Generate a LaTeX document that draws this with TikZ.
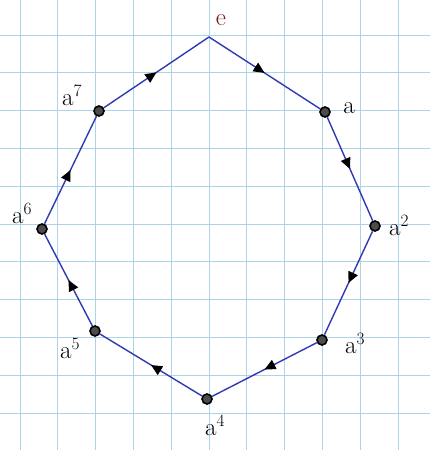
\documentclass[tikz,border=0pt]{standalone}
\usepackage{tikz}
\usepackage{xcolor}
\usetikzlibrary{arrows.meta, decorations.markings}
\definecolor{gridblue}{RGB}{172,212,232}
\definecolor{edgeblue}{RGB}{48,58,178}
\definecolor{labelred}{RGB}{112,30,30}

\begin{document}
\begin{tikzpicture}[
    x=1pt, y=-1pt,
    gridline/.style={gridblue, line width=0.8pt},
    vtx/.style={circle, draw=black, fill=black!70, line width=1.6pt,
                inner sep=0pt, minimum size=10pt},
    lbl/.style={font=\fontsize{25}{29}\selectfont, inner sep=1pt},
    edge/.style={edgeblue, line width=1.4pt, postaction={decorate},
                 decoration={markings, mark=at position 0.5 with
                 {\arrow[black]{Triangle[length=11pt, width=10pt]}}}}
]
\useasboundingbox (0,0) rectangle (430,450);
\fill[white] (0,0) rectangle (430,450);
% quadretti
\foreach \k in {0,...,11}{
    \draw[gridline] ({20+37.8*\k},0) -- ({20+37.8*\k},450);
}
\foreach \k in {0,...,12}{
    \draw[gridline] (0,{-2.8+37.8*\k}) -- (430,{-2.8+37.8*\k});
}
% elementi del gruppo
\coordinate (N0) at (209,37);
\foreach \i/\x/\y in {1/325/112, 2/375/226, 3/322/340, 4/207/399,
                      5/95/331, 6/42/229, 7/99/111}{
    \node[vtx] (N\i) at (\x,\y) {};
}
% archi del ciclo
\foreach \i in {0,...,7}{
    \pgfmathtruncatemacro{\j}{mod(\i+1,8)}
    \draw[edge] (N\i) -- (N\j);
}
% etichette
\node[lbl, text=labelred] (L0) at (221,20) {e};
\node[lbl] (L1) at (349,108) {a};
\node[lbl] (L2) at (399,226) {a$^{2}$};
\node[lbl] (L3) at (355,344) {a$^{3}$};
\node[lbl] (L4) at (215,426) {a$^{4}$};
\node[lbl] (L5) at (70,349) {a$^{5}$};
\node[lbl] (L6) at (22,214) {a$^{6}$};
\node[lbl] (L7) at (72,96) {a$^{7}$};
\end{tikzpicture}
\end{document}
